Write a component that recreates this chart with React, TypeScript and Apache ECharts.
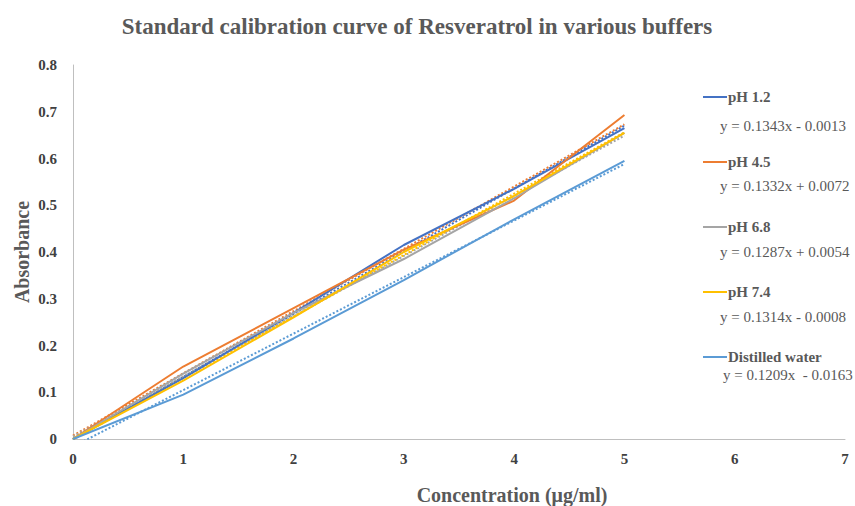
import React, { useEffect, useRef } from "react";
import * as echarts from "echarts";

const concentrations = [0, 1, 2, 3, 4, 5];
const seriesNames = ["pH 1.2", "pH 4.5", "pH 6.8", "pH 7.4", "Distilled water"];
const ph12 = [0, 0.13, 0.27, 0.415, 0.535, 0.665];
const ph45 = [0, 0.155, 0.28, 0.405, 0.51, 0.693];
const ph68 = [0, 0.14, 0.27, 0.385, 0.515, 0.655];
const ph74 = [0, 0.125, 0.26, 0.4, 0.52, 0.655];
const water = [0, 0.095, 0.215, 0.34, 0.47, 0.595];
const slopes = [0.1343, 0.1332, 0.1287, 0.1314, 0.1209];
const intercepts = [-0.0013, 0.0072, 0.0054, -0.0008, -0.0163];
const equations = [
  "y = 0.1343x - 0.0013",
  "y = 0.1332x + 0.0072",
  "y = 0.1287x + 0.0054",
  "y = 0.1314x - 0.0008",
  "y = 0.1209x  - 0.0163",
];
const colors = ["#4472C4", "#ED7D31", "#A5A5A5", "#FFC000", "#5B9BD5"];
const xTicks = [0, 1, 2, 3, 4, 5, 6, 7];
const yTicks = [0, 0.1, 0.2, 0.3, 0.4, 0.5, 0.6, 0.7, 0.8];

const FONT = "'Liberation Serif', 'Times New Roman', serif";

export default function App() {
  const ref = useRef<HTMLDivElement>(null);
  useEffect(() => {
    if (!ref.current) return;
    const chart = echarts.init(ref.current, null, { renderer: "svg" });
    const values = [ph12, ph45, ph68, ph74, water];
    const dataSeries = values.map((v, i) => ({
      name: seriesNames[i],
      type: "line",
      data: v.map((y, j) => [concentrations[j], y]),
      symbol: "none",
      lineStyle: { color: colors[i], width: 2 },
      itemStyle: { color: colors[i] },
      z: 3,
    }));
    const xs = [concentrations[0], concentrations[concentrations.length - 1]];
    const trendSeries = slopes.map((m, i) => ({
      name: seriesNames[i] + " trend",
      type: "line",
      data: xs.map((x) => [x, m * x + intercepts[i]]),
      symbol: "none",
      clip: true,
      lineStyle: { color: colors[i], width: 2, type: "dotted" },
      itemStyle: { color: colors[i] },
      z: 2,
    }));
    const eqY = [126, 186, 252, 317, 375];
    const eqX = [720, 720, 720, 720, 723];
    chart.setOption({
      animation: false,
      textStyle: { fontFamily: FONT },
      title: {
        text: "Standard calibration curve of Resveratrol in various buffers",
        left: 412,
        top: 10,
        textAlign: "center",
        textStyle: { fontFamily: FONT, fontSize: 23, fontWeight: "bold", color: "#595959" },
      },
      grid: { left: 73, right: 10, top: 65, bottom: 67 },
      legend: {
        data: seriesNames,
        orient: "vertical",
        left: 698,
        top: 84,
        itemWidth: 24,
        itemHeight: 2,
        itemGap: 49,
        icon: "rect",
        textStyle: {
          fontFamily: FONT,
          fontSize: 15,
          fontWeight: "bold",
          color: "#595959",
          lineHeight: 16,
          padding: [0, 0, 0, -4],
        },
      },
      xAxis: {
        type: "value",
        min: 0,
        max: 7,
        interval: 1,
        axisLine: { show: true, lineStyle: { color: "#BFBFBF", width: 1 } },
        axisTick: { show: false },
        splitLine: { show: false },
        axisLabel: {
          fontFamily: FONT,
          fontSize: 15,
          fontWeight: "bold",
          color: "#404040",
          margin: 12,
          formatter: (v: number) => (xTicks.includes(v) ? String(v) : ""),
        },
      },
      yAxis: {
        type: "value",
        min: 0,
        max: 0.8,
        interval: 0.1,
        axisLine: { show: true, lineStyle: { color: "#BFBFBF", width: 1 } },
        axisTick: { show: false },
        splitLine: { show: false },
        axisLabel: {
          fontFamily: FONT,
          fontSize: 15,
          fontWeight: "bold",
          color: "#404040",
          margin: 16,
          formatter: (v: number) => {
            const t = yTicks.find((k) => Math.abs(k - v) < 1e-6);
            return t === undefined ? "" : t === 0 ? "0" : t.toFixed(1);
          },
        },
      },
      graphic: [
        {
          type: "text",
          x: 22,
          y: 252,
          rotation: Math.PI / 2,
          style: {
            text: "Absorbance",
            fontFamily: FONT,
            fontSize: 20,
            fontWeight: "bold",
            fill: "#595959",
            textAlign: "center",
            textVerticalAlign: "middle",
          },
        },
        {
          type: "text",
          x: 512,
          y: 495,
          style: {
            text: "Concentration (μg/ml)",
            fontFamily: FONT,
            fontSize: 20,
            fontWeight: "bold",
            fill: "#595959",
            textAlign: "center",
            textVerticalAlign: "middle",
          },
        },
        ...equations.map((eq, i) => ({
          type: "text",
          x: eqX[i],
          y: eqY[i],
          style: {
            text: eq,
            fontFamily: FONT,
            fontSize: 15,
            fill: "#595959",
            textAlign: "left",
            textVerticalAlign: "middle",
          },
        })),
      ],
      series: [...dataSeries, ...trendSeries],
    });
    return () => chart.dispose();
  }, []);
  return (
    <div
      ref={ref}
      style={{ position: "fixed", left: 0, top: 0, width: 855, height: 506, background: "#fff" }}
    />
  );
}
